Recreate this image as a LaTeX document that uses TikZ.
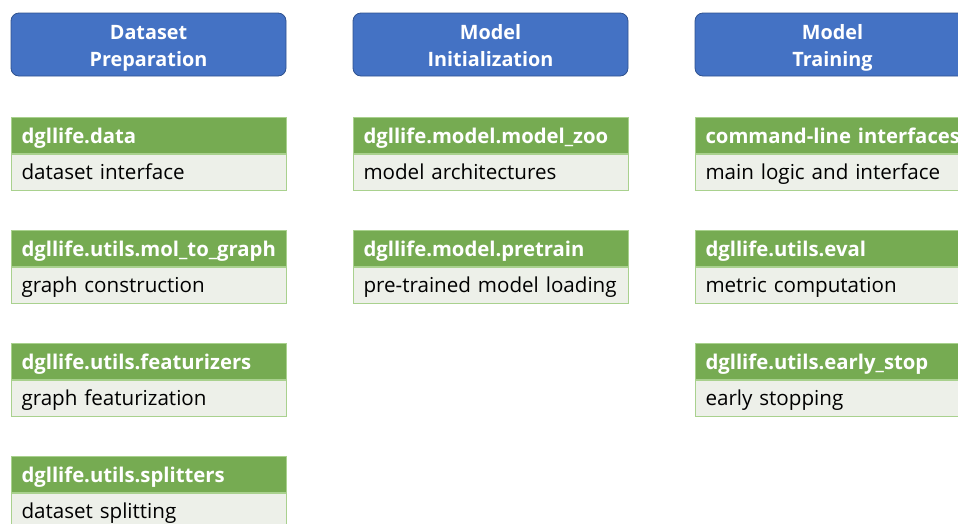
\documentclass[tikz,border=0pt]{standalone}
\usepackage{fontspec}
\setmainfont{Open Sans}
\usepackage{xcolor}
\definecolor{hdrblue}{HTML}{4472C4}
\definecolor{hdrline}{HTML}{2F528F}
\definecolor{modgreen}{HTML}{76AB52}
\definecolor{modline}{HTML}{A9D18E}
\definecolor{modfill}{HTML}{EDF0E9}

\begin{document}
\begin{tikzpicture}[x=1pt, y=-1pt,
	header/.style={draw=hdrline, fill=hdrblue, rounded corners=8pt, line width=0.8pt,
		minimum width=275pt, minimum height=63pt, text=white, align=center,
		text height=43pt, text depth=0pt, font=\fontsize{19.8}{27}\selectfont\bfseries},
	modname/.style={draw=modline, fill=modgreen, line width=1pt, anchor=north west,
		minimum height=36pt, text width=255pt, inner xsep=10pt, align=left,
		text height=18pt, text depth=2pt, text=white,
		font=\fontsize{20.3}{23}\selectfont\bfseries},
	moddesc/.style={draw=modline, fill=modfill, line width=1pt, anchor=north,
		minimum height=36pt, text width=255pt, inner xsep=10pt, align=left,
		text height=16pt, text depth=2pt, text=black,
		font=\fontsize{20.6}{23}\selectfont}]
	\useasboundingbox (0,0) rectangle (958,523);

	% Column 1: dataset preparation
	\begin{scope}
		\node[header] (Hdata) at (148.5, 44.5) {Dataset\\Preparation};

		\node[modname] (D1) at (11, 117) {dgllife.data};
		\node[moddesc] (D1d) at (D1.south) {dataset interface};
		\node[modname] (D2) at (11, 230) {dgllife.utils.mol\_to\_graph};
		\node[moddesc] (D2d) at (D2.south) {graph construction};
		\node[modname] (D3) at (11, 343) {dgllife.utils.featurizers};
		\node[moddesc] (D3d) at (D3.south) {graph featurization};
		\node[modname] (D4) at (11, 456) {dgllife.utils.splitters};
		\node[moddesc] (D4d) at (D4.south) {dataset splitting};
	\end{scope}

	% Column 2: model initialization
	\begin{scope}
		\node[header] (Hinit) at (490.5, 44.5) {Model\\Initialization};

		\node[modname] (M1) at (353, 117) {dgllife.model.model\_zoo};
		\node[moddesc] (M1d) at (M1.south) {model architectures};
		\node[modname] (M2) at (353, 230) {dgllife.model.pretrain};
		\node[moddesc] (M2d) at (M2.south) {pre-trained model loading};
	\end{scope}

	% Column 3: model training
	\begin{scope}
		\node[header] (Htrain) at (832.5, 44.5) {Model\\Training};

		\node[modname] (T1) at (695, 117) {\mbox{command-line interfaces}};
		\node[moddesc] (T1d) at (T1.south) {main logic and interface};
		\node[modname] (T2) at (695, 230) {dgllife.utils.eval};
		\node[moddesc] (T2d) at (T2.south) {metric computation};
		\node[modname] (T3) at (695, 343) {dgllife.utils.early\_stop};
		\node[moddesc] (T3d) at (T3.south) {early stopping};
	\end{scope}
\end{tikzpicture}
\end{document}
